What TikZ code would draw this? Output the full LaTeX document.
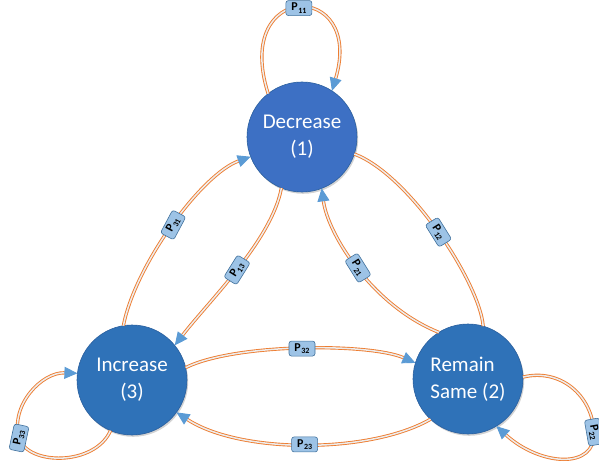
\documentclass[tikz,border=0pt]{standalone}
\usepackage{fontspec}
\setmainfont{Carlito}
\usetikzlibrary{arrows.meta,shadows}
\definecolor{decblue}{HTML}{3D70C4}
\definecolor{stblue}{HTML}{2F72B8}
\definecolor{stedge}{HTML}{2A5F9E}
\definecolor{edgeorange}{HTML}{ED7D31}
\definecolor{edgeinner}{HTML}{EDEDED}
\definecolor{arrowblue}{HTML}{5B9BD5}
\definecolor{arrowdark}{HTML}{41719C}
\definecolor{lblfill}{HTML}{9DC3E6}
\newcommand{\plab}[1]{\textbf{P}\kern0.6pt\raisebox{-2.4pt}{\fontsize{8}{8}\selectfont\textbf{#1}}}
\begin{document}
\begin{tikzpicture}[x=1pt,y=-1pt,
  statenode/.style={circle,minimum size=110pt,inner sep=0pt,outer sep=0pt,
    draw=stedge,line width=0.6pt,text=white,
    font=\fontsize{21}{27}\selectfont,
    drop shadow={opacity=0.35,shadow xshift=1.2pt,shadow yshift=-1.8pt}},
  conn/.style={draw=edgeorange,line width=0.9pt,double=edgeinner,double distance=1.5pt},
  arr/.style={conn,-{Triangle[length=13pt,width=12pt,fill=arrowblue,color=arrowblue]}},
  lbl/.style={draw=arrowdark,fill=lblfill,line width=0.6pt,rounded corners=2.5pt,
    minimum width=26pt,minimum height=15pt,inner sep=1pt,text=black,
    font=\fontsize{12}{12}\selectfont}
]
\useasboundingbox (0,0) rectangle (599,468);

\node[statenode,fill=decblue,align=center] (dec) at (302,137) {Decrease\\(1)};
\node[statenode,fill=stblue,align=left] (rs) at (468,379) {Remain\\Same (2)};
\node[statenode,fill=stblue,align=center] (inc) at (132,380) {Increase\\(3)};

% P11 loop
\path[arr] (dec.128) .. controls (232,-20) and (365,-20) .. node[lbl,pos=0.5] {\plab{11}} (dec.57);
% P12
\path[conn] (dec.342) .. controls (410,175) and (480,284) .. node[lbl,pos=0.5,rotate=-58] {\plab{12}} (rs.74);
% P21
\path[arr] (rs.122) .. controls (373,306) and (328,235) .. node[lbl,pos=0.5,rotate=-58] {\plab{21}} (dec.291);
% P13
\path[arr] (dec.248) .. controls (272,240) and (208,302) .. node[lbl,pos=0.5,rotate=58] {\plab{13}} (inc.39);
% P31
\path[arr] (inc.99) .. controls (135,265) and (202,174) .. node[lbl,pos=0.5,rotate=62] {\plab{31}} (dec.201);
% P32
\path[arr] (inc.13) .. controls (235,343) and (370,343) .. node[lbl,pos=0.5] {\plab{32}} (rs.163);
% P23
\path[arr] (rs.227) .. controls (370,454) and (240,454) .. node[lbl,pos=0.5] {\plab{23}} (inc.324);
% P33 loop
\path[arr] (inc.247) .. controls (95,466) and (28,466) .. (19,438) node[lbl,rotate=78] {\plab{33}}
  .. controls (10,405) and (42,372) .. (inc.173);
% P22 loop
\path[arr] (rs.2) .. controls (560,368) and (592,395) .. (594,432) node[lbl,rotate=-80] {\plab{22}}
  .. controls (596,470) and (540,466) .. (rs.301);
\end{tikzpicture}
\end{document}
